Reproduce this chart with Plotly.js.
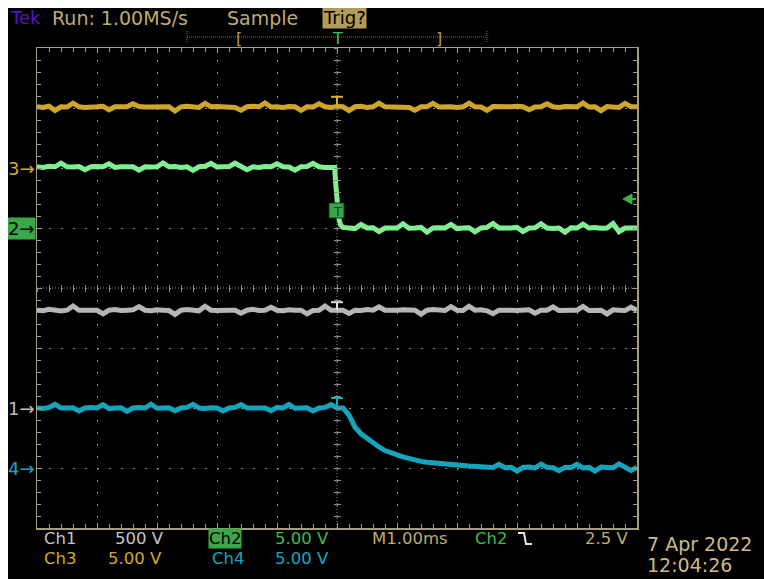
<!DOCTYPE html>
<html><head><meta charset="utf-8">
<script src="https://cdn.plot.ly/plotly-3.0.1.min.js"></script>
<style>
html,body{margin:0;padding:0;background:#fff;width:765px;height:579px;overflow:hidden;}
#chart{position:absolute;left:8px;top:8px;width:756px;height:571px;background:#000;}
</style></head><body><div id="chart"></div>
<script>
// time axis in ms (1.00 ms/div, trigger at 0)
const tBase = [-5,-4.9,-4.8,-4.7,-4.6,-4.5,-4.4,-4.3,-4.2,-4.1,
 -4,-3.9,-3.8,-3.7,-3.6,-3.5,-3.4,-3.3,-3.2,-3.1,
 -3,-2.9,-2.8,-2.7,-2.6,-2.5,-2.4,-2.3,-2.2,-2.1,
 -2,-1.9,-1.8,-1.7,-1.6,-1.5,-1.4,-1.3,-1.2,-1.1,
 -1,-0.9,-0.8,-0.7,-0.6,-0.5,-0.4,-0.3,-0.2,-0.1,
 0,0.1,0.2,0.3,0.4,0.5,0.6,0.7,0.8,0.9,
 1,1.1,1.2,1.3,1.4,1.5,1.6,1.7,1.8,1.9,
 2,2.1,2.2,2.3,2.4,2.5,2.6,2.7,2.8,2.9,
 3,3.1,3.2,3.3,3.4,3.5,3.6,3.7,3.8,3.9,
 4,4.1,4.2,4.3,4.4,4.5,4.6,4.7,4.8,4.9,5];
const tCh2 = [-5,-4.9,-4.8,-4.7,-4.6,-4.5,-4.4,-4.3,-4.2,-4.1,
 -4,-3.9,-3.8,-3.7,-3.6,-3.5,-3.4,-3.3,-3.2,-3.1,
 -3,-2.9,-2.8,-2.7,-2.6,-2.5,-2.4,-2.3,-2.2,-2.1,
 -2,-1.9,-1.8,-1.7,-1.6,-1.5,-1.4,-1.3,-1.2,-1.1,
 -1,-0.9,-0.8,-0.7,-0.6,-0.5,-0.4,-0.3,-0.2,-0.1,
 -0.04,-0.02,0,0.03,0.06,
 0.1,0.2,0.3,0.4,0.5,0.6,0.7,0.8,0.9,
 1,1.1,1.2,1.3,1.4,1.5,1.6,1.7,1.8,1.9,
 2,2.1,2.2,2.3,2.4,2.5,2.6,2.7,2.8,2.9,
 3,3.1,3.2,3.3,3.4,3.5,3.6,3.7,3.8,3.9,
 4,4.1,4.2,4.3,4.4,4.5,4.6,4.7,4.8,4.9,5];

// channel values in volts
const ch1Volts = [815,810,822,815,808,815,850,815,812,818,
 815,785,815,820,812,815,818,845,815,810,
 818,815,812,780,815,820,815,810,848,815,
 812,818,815,815,790,815,822,812,815,840,
 815,810,818,815,815,785,812,815,850,815,
 818,815,788,815,812,820,815,842,815,810,
 815,818,812,815,782,815,820,815,812,845,
 815,812,848,815,818,810,786,815,820,815,
 812,815,818,790,815,815,842,812,818,815,
 815,846,812,815,815,784,818,815,812,840,815];
const ch2Volts = [5.10,5.05,5.15,5.10,5.40,5.10,5.08,5.12,4.85,5.10,
 5.12,5.10,5.35,5.05,5.10,5.15,5.10,4.82,5.10,5.08,
 5.10,5.42,5.10,5.12,5.05,5.10,4.80,5.10,5.15,5.38,
 5.08,5.10,5.12,5.40,5.10,4.85,5.10,5.05,5.12,5.10,
 5.35,5.10,5.08,4.82,5.10,5.12,5.38,5.10,5.05,5.10,
 5.05,3.60,2.00,0.80,0.25,
 0.05,0.00,-0.05,0.30,0.00,0.02,-0.30,0.00,0.05,0.00,
 0.35,-0.02,0.00,0.05,-0.35,0.00,0.02,0.00,0.30,-0.05,
 0.00,0.02,-0.32,0.00,0.05,0.38,0.00,-0.02,0.00,0.05,
 -0.30,0.00,0.02,0.35,0.00,-0.05,0.00,-0.35,0.02,0.00,
 0.32,0.00,0.05,-0.02,0.00,0.38,-0.30,0.00,0.02,0.00];
const ch3Volts = [5.10,5.05,5.15,4.80,5.10,5.08,5.40,5.10,5.05,5.12,
 5.10,5.15,4.85,5.10,5.05,5.10,5.35,5.12,5.08,5.10,
 5.05,5.12,5.10,4.75,5.10,5.15,5.10,5.05,5.38,5.10,
 5.12,5.08,5.10,5.05,4.82,5.10,5.15,5.10,5.42,5.08,
 5.10,5.05,5.12,5.10,4.80,5.10,5.08,5.35,5.10,5.05,
 5.12,5.10,4.78,5.10,5.15,5.05,5.10,5.40,5.10,5.08,
 5.10,5.12,5.05,4.82,5.10,5.10,5.38,5.08,5.12,5.10,
 5.05,5.10,5.40,5.10,5.08,4.80,5.12,5.10,5.05,5.10,
 5.15,5.10,4.85,5.08,5.10,5.35,5.10,5.05,5.12,5.10,
 5.10,5.42,5.08,5.10,4.78,5.12,5.10,5.05,5.38,5.10,5.10];
const ch4Volts = [5.00,4.95,5.05,5.30,5.00,4.98,5.02,4.75,5.00,5.05,
 5.00,5.28,4.95,5.00,5.02,4.72,5.00,5.05,5.00,5.32,
 4.98,5.00,5.02,4.78,5.00,5.05,5.30,5.00,4.95,5.02,
 5.00,4.75,5.00,5.05,5.28,5.00,4.98,5.02,5.00,4.78,
 5.05,5.00,5.30,4.98,5.00,5.02,4.75,5.00,5.05,5.28,
 5.00,
 5.00,4.40,3.40,2.85,2.45,2.05,1.75,1.45,1.25,1.10,
 0.92,0.80,0.65,0.55,0.48,0.42,0.35,0.30,0.27,0.22,
 0.20,0.16,0.14,0.12,0.10,
 0.05,0.30,0.02,0.05,-0.25,0.05,0.08,0.00,0.32,0.05,
 0.02,-0.22,0.05,0.05,0.30,0.00,0.05,-0.25,0.08,0.05,
 0.02,0.35,0.05,-0.20,0.05];

// channel setup: volts/div and ground position (divisions from centre)
const chNames   = ['Ch1','Ch2','Ch3','Ch4'];
const chScale   = [500, 5, 5, 5];
const chGround  = [-2, 1, 2, -3];
const chColors  = ['#b6b6b6','#82ee92','#cfa52c','#14a4bc'];
const chText    = ['#c4c4c4','#3dbb4b','#d4a923','#17a6c2'];
const scaleLabels = ['500 V','5.00 V','5.00 V','5.00 V'];

const toDiv = (arr, i) => arr.map(v => v / chScale[i] + chGround[i]);

const FONT = 'DejaVu Sans';
const TAN = '#bfaa70';
const GRID = '#8c8c8c';
const FRAME = '#a59c82';

const px2x = p => (p - 37) / 600;
const py2y = p => (528 - p) / 480;
function ann(text, xp, yp, color, size, extra) {
  return Object.assign({text: text, xref:'paper', yref:'paper', x: px2x(xp), y: py2y(yp),
    xanchor:'left', yanchor:'middle', showarrow:false, font:{family:FONT, size:size, color:color}}, extra || {});
}
const BF = 16.5;          // bottom readout font size
const ROW1 = 538.5, ROW2 = 558;

const traces = [
  {x: tBase, y: toDiv(ch3Volts, 2), mode:'lines', line:{color:chColors[2], width:5}},
  {x: tCh2,  y: toDiv(ch2Volts, 1), mode:'lines', line:{color:chColors[1], width:5}},
  {x: tBase, y: toDiv(ch1Volts, 0), mode:'lines', line:{color:chColors[0], width:5}},
  {x: tBase, y: toDiv(ch4Volts, 3), mode:'lines', line:{color:chColors[3], width:5}},
  {x: [], y: [], xaxis:'x2', yaxis:'y2', mode:'lines'},
  {x: [], y: [], xaxis:'x3', yaxis:'y3', mode:'lines'}
].map(t => Object.assign({hoverinfo:'skip', showlegend:false}, t));

const lvl3 = ch3Volts[0] / chScale[2] + chGround[2];
const lvl1 = ch1Volts[0] / chScale[0] + chGround[0];
const lvl4 = ch4Volts[0] / chScale[3] + chGround[3];

function tMark(level, color, h) {
  return [
    {type:'line', xref:'x', yref:'y', xsizemode:'pixel', ysizemode:'pixel', xanchor:0, yanchor:level,
     x0:-6, x1:6, y0:h, y1:h, line:{color:color, width:2}},
    {type:'line', xref:'x', yref:'y', xsizemode:'pixel', ysizemode:'pixel', xanchor:0, yanchor:level,
     x0:0, x1:0, y0:0, y1:h, line:{color:color, width:2}}
  ];
}

const shapes = [
  // centre cross-hair
  {type:'line', xref:'x', yref:'paper', x0:0, x1:0, y0:0, y1:1, layer:'below', line:{color:GRID, width:1, dash:'1px,2px'}},
  {type:'line', xref:'paper', yref:'y', x0:0, x1:1, y0:0, y1:0, layer:'below', line:{color:GRID, width:1, dash:'1px,2px'}},
  // trigger position bar at top
  {type:'line', xref:'paper', yref:'paper', x0:0.25, x1:0.75, y0:py2y(37), y1:py2y(37), line:{color:'#2f9a40', width:1, dash:'1px,1px'}},
  {type:'line', xref:'paper', yref:'paper', x0:0.25, x1:0.25, y0:py2y(31), y1:py2y(43), line:{color:'#2f9a40', width:1, dash:'1px,1px'}},
  {type:'line', xref:'paper', yref:'paper', x0:0.75, x1:0.75, y0:py2y(31), y1:py2y(43), line:{color:'#2f9a40', width:1, dash:'1px,1px'}},
  // ch2 trigger box
  {type:'rect', xref:'x', yref:'y', xsizemode:'pixel', ysizemode:'pixel', xanchor:0, yanchor:chGround[1],
   x0:-8, x1:7, y0:10, y1:25, fillcolor:'#3aa448', line:{color:'#16361c', width:1}},
  // trigger level arrow at right
  {type:'path', xref:'paper', yref:'paper',
   path:'M' + px2x(623) + ',' + py2y(199) + ' L' + px2x(632) + ',' + py2y(194) + ' L' + px2x(632) + ',' + py2y(204) + ' Z',
   fillcolor:'#3cb04a', line:{color:'#3cb04a', width:1}},
  {type:'line', xref:'paper', yref:'paper', x0:px2x(631), x1:px2x(636), y0:py2y(199), y1:py2y(199), line:{color:'#3cb04a', width:2}},
  // falling edge symbol
  {type:'path', xref:'paper', yref:'paper',
   path:'M' + px2x(518) + ',' + py2y(533) + ' L' + px2x(524) + ',' + py2y(533) + ' L' + px2x(526) + ',' + py2y(544) + ' L' + px2x(532) + ',' + py2y(544),
   line:{color:'#e6e6e6', width:2}}
].concat(tMark(lvl3, '#d6ae30', 10), tMark(lvl1, '#dcdcdc', 8), tMark(lvl4, '#19aac4', 10));

const annotations = [
  ann('Tek', 8, 17.5, '#5c12c6', 18),
  ann('Run: 1.00MS/s', 50, 17.5, TAN, 19),
  ann('Sample', 225, 17.5, TAN, 19),
  ann('Trig?', 322, 17.5, '#000', 18, {bgcolor:'#b39a58', borderpad:0}),
  ann('[', 234, 38, '#b69a52', 16),
  ann(']', 434, 38, '#b69a52', 16),
  ann('T', 337, 38, '#39c65c', 16, {xanchor:'center'}),
  // left ground markers
  ann('3\u2192', 37, 170, chText[2], 18, {xanchor:'right', yref:'y', y: chGround[2]}),
  ann('2\u2192', 36, 230, '#000', 18, {xanchor:'right', yref:'y', y: chGround[1], bgcolor:'#3aa848', borderpad:0}),
  ann('1\u2192', 37, 410, '#bdbdbd', 18, {xanchor:'right', yref:'y', y: chGround[0]}),
  ann('4\u2192', 37, 470, chText[3], 18, {xanchor:'right', yref:'y', y: chGround[3]}),
  // trigger box glyph
  ann('T', 337, 211, '#16481f', 13, {xanchor:'center', xref:'x', x:0}),
  // bottom readouts
  ann(chNames[0], 42, ROW1, chText[0], BF),
  ann(scaleLabels[0], 113, ROW1, chText[0], BF),
  ann(chNames[1], 208, ROW1, '#000', BF, {bgcolor:'#3aa845', borderpad:0}),
  ann(scaleLabels[1], 273, ROW1, chText[1], BF),
  ann('M1.00ms', 370, ROW1, TAN, BF),
  ann('Ch2', 473, ROW1, chText[1], BF),
  ann('2.5 V', 583, ROW1, TAN, BF),
  ann(chNames[2], 42, ROW2, chText[2], BF),
  ann(scaleLabels[2], 106, ROW2, chText[2], BF),
  ann(chNames[3], 210, ROW2, chText[3], BF),
  ann(scaleLabels[3], 273, ROW2, chText[3], BF),
  ann('7 Apr 2022', 645, 544, '#cfba84', 19),
  ann('12:04:26', 645, 578, '#cfba84', 19, {yanchor:'bottom'})
];

const baseAxis = {showticklabels:false, zeroline:false, fixedrange:true};
const layout = {
  width:756, height:571,
  margin:{l:29, r:127, t:40, b:51},
  paper_bgcolor:'#000', plot_bgcolor:'#000',
  showlegend:false, hovermode:false,
  xaxis: Object.assign({}, baseAxis, {range:[-5,5], tick0:-5, dtick:1, showgrid:true, gridcolor:GRID, gridwidth:1, griddash:'2px,10px',
    showline:true, mirror:'allticks', linecolor:FRAME, linewidth:1.5, ticks:'inside', ticklen:5, tickcolor:FRAME,
    minor:{tick0:-5, dtick:0.2, ticks:'inside', ticklen:4, tickcolor:FRAME, showgrid:false}}),
  yaxis: Object.assign({}, baseAxis, {range:[-4,4], tick0:-4, dtick:1, showgrid:true, gridcolor:GRID, gridwidth:1, griddash:'2px,10px',
    showline:true, mirror:'allticks', linecolor:FRAME, linewidth:1.5, ticks:'inside', ticklen:5, tickcolor:FRAME,
    minor:{tick0:-4, dtick:0.2, ticks:'inside', ticklen:4, tickcolor:FRAME, showgrid:false}}),
  xaxis2: Object.assign({}, baseAxis, {overlaying:'x', anchor:'free', position:0.5, range:[-5,5], tick0:0, dtick:0.2,
    ticks:'inside', ticklen:3, tickcolor:GRID, showgrid:false, showline:false}),
  xaxis3: Object.assign({}, baseAxis, {overlaying:'x', anchor:'free', position:0.5, range:[-5,5], tick0:0, dtick:0.2,
    ticks:'outside', ticklen:3, tickcolor:GRID, showgrid:false, showline:false}),
  yaxis2: Object.assign({}, baseAxis, {overlaying:'y', anchor:'free', position:0.5, range:[-4,4], tick0:0, dtick:0.2,
    ticks:'inside', ticklen:3, tickcolor:GRID, showgrid:false, showline:false}),
  yaxis3: Object.assign({}, baseAxis, {overlaying:'y', anchor:'free', position:0.5, range:[-4,4], tick0:0, dtick:0.2,
    ticks:'outside', ticklen:3, tickcolor:GRID, showgrid:false, showline:false}),
  shapes: shapes,
  annotations: annotations
};

Plotly.newPlot('chart', traces, layout, {staticPlot:true, displayModeBar:false});
</script></body></html>
